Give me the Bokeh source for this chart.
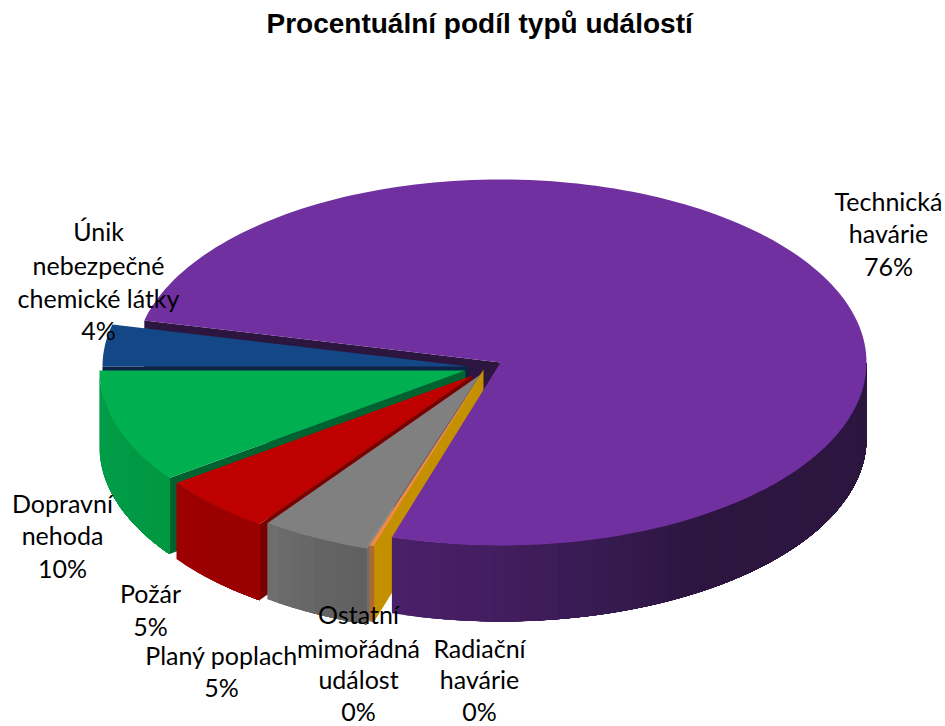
from bokeh.plotting import figure
from bokeh.models import Range1d, Title
from bokeh.core.properties import value
from bokeh.embed import file_html
from bokeh.resources import INLINE
import math

# ---- data (percent shares, clockwise from the large slice) ----
categories = ["Technická havárie", "Radiační havárie", "Ostatní mimořádná událost",
              "Planý poplach", "Požár", "Dopravní nehoda", "Únik nebezpečné chemické látky"]
shares = [76.1, 0.05, 0.2, 4.85, 5.1, 10.0, 3.7]
label_lines = [["Technická", "havárie"], ["Radiační", "havárie"], ["Ostatní", "mimořádná", "událost"],
               ["Planý poplach"], ["Požár"], ["Dopravní", "nehoda"], ["Únik", "nebezpečné", "chemické látky"]]
title_text = "Procentuální podíl typů událostí"

# ---- layout / style ----
W, H, TITLE_H = 945, 726, 44
CX, CY, RX, RY, DEPTH = 500, 362, 366, 183, 76
START = 166.7
offsets = [(0, 0), (-17, 7), (-17, 9), (-20, 12), (-28, 13), (-35, 8), (-32, 4)]
top_col = ["#7030A0", "#C49000", "#ED8C45", "#808080", "#BE0000", "#00AF50", "#134785"]
cut_col = ["#2C1640", "#C49000", "#B06A30", "#6E6E6E", "#7A0000", "#00622F", "#0B2344"]
wall_stops = [
    [(392, "#4A2068"), (500, "#421D5E"), (600, "#361A50"), (690, "#2C1640"), (870, "#2C1640")],
    [(370, "#C49000"), (395, "#C49000")],
    [(365, "#A8622A"), (378, "#C07A38")],
    [(265, "#6E6E6E"), (310, "#656565"), (370, "#5E5E5E")],
    [(170, "#9C0000"), (265, "#9A0000")],
    [(95, "#029C48"), (178, "#00963F")],
    [(95, "#134785"), (115, "#134785")],
]
label_pos = [
    (888, [200, 232, 265]),
    (479, [647, 678, 710]),
    (358, [613, 647, 678, 710]),
    (221, [654, 686]),
    (150, [592, 625]),
    (62, [502, 534, 567]),
    (98, [230, 264, 297, 329]),
]

spans = []
t = START
for s in shares:
    t2 = t - s * 3.6
    spans.append((t2, t))
    t = t2


def rim(i, a):
    return (CX + offsets[i][0] + RX * math.cos(math.radians(a)),
            CY + offsets[i][1] - RY * math.sin(math.radians(a)))


def apex(i):
    return (CX + offsets[i][0], CY + offsets[i][1])


def hexmix(stops, x):
    def rgb(c):
        return [int(c[k:k + 2], 16) for k in (1, 3, 5)]
    if x <= stops[0][0]:
        return stops[0][1]
    for (x0, c0), (x1, c1) in zip(stops, stops[1:]):
        if x <= x1:
            f = (x - x0) / (x1 - x0)
            return "#%02x%02x%02x" % tuple(round(a + (b - a) * f) for a, b in zip(rgb(c0), rgb(c1)))
    return stops[-1][1]


polys = []


def add(poly, col):
    polys.append(([q[0] for q in poly], [q[1] for q in poly], col))


def cut(i, a):
    r, c = rim(i, a), apex(i)
    add([r, c, (c[0], c[1] + DEPTH), (r[0], r[1] + DEPTH)], cut_col[i])


def wall(i):
    lo, hi = spans[i]
    for a, b in [(lo, hi), (lo + 360, hi + 360)]:
        a2, b2 = max(a, 180), min(b, 360)
        if b2 <= a2:
            continue
        n = max(1, int((b2 - a2) / 2))
        for k in range(n):
            u = a2 + (b2 - a2) * k / n
            arc = [rim(i, u + (b2 - u) * j / 24) for j in range(25)]
            low = [(q[0], q[1] + DEPTH) for q in reversed(arc)]
            add(arc + low, hexmix(wall_stops[i], arc[0][0]))


def top(i):
    lo, hi = spans[i]
    n = max(2, int((hi - lo) / 1.5))
    add([apex(i)] + [rim(i, lo + (hi - lo) * k / n) for k in range(n + 1)], top_col[i])


# Back to front: every nearer slice hides the cut face of the one before it
cut(0, spans[0][1])
for i in (6, 5, 4, 3):
    cut(i, spans[i][1])
    wall(i)
    top(i)
cut(1, spans[1][1])
wall(1)
top(1)
wall(0)
top(0)
wall(2)
top(2)

p = figure(width=W, height=H, frame_width=W, frame_height=H - TITLE_H,
           x_range=Range1d(0, W), y_range=Range1d(H, TITLE_H),
           output_backend="svg", toolbar_location=None,
           min_border=0, min_border_top=TITLE_H, outline_line_color=None,
           background_fill_color="white", border_fill_color="white")
p.axis.visible = False
p.grid.visible = False
p.title = Title(text=title_text, align="left", offset=266, vertical_align="middle", text_font="Liberation Sans",
                text_font_size="28px", text_font_style="bold", text_color="black")

for a, b, c in polys:
    p.patch(a, b, fill_color=c, line_color=None)

tx, ty, tt = [], [], []
for i, (x, yy) in enumerate(label_pos):
    lines = label_lines[i] + [f"{round(shares[i])}%"]
    for ln, y in zip(lines, yy):
        tx.append(x); ty.append(y); tt.append(ln)
p.text(tx, ty, text=tt, text_font=value("Lato"), text_font_size="25px", text_color="black",
       text_align="center", text_baseline="middle")

open("out.html", "w").write(file_html(p, INLINE))
